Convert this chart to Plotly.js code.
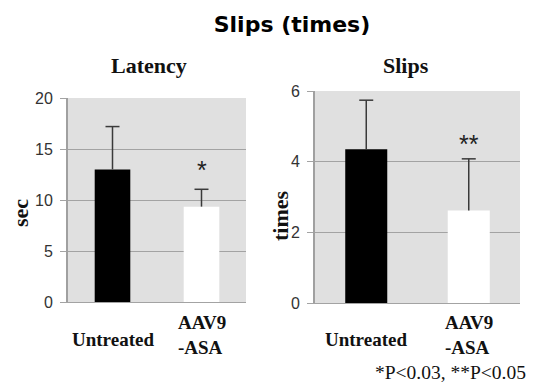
<!DOCTYPE html>
<html>
<head>
<meta charset="utf-8">
<script src="https://cdn.plot.ly/plotly-3.0.1.min.js"></script>
<style>
html,body{margin:0;padding:0;background:#fff;}
#chart{width:535px;height:389px;}
</style>
</head>
<body>
<div id="chart"></div>
<script>
const categories = ['Untreated', 'AAV9-ASA'];
const tickLabels = ['Untreated', 'AAV9<br>-ASA'];
const latencyMean = [13.0, 9.35];
const latencyErr = [4.2, 1.7];
const latencyStars = ['', '*'];
const slipsMean = [4.35, 2.62];
const slipsErr = [1.39, 1.46];
const slipsStars = ['', '**'];
const barColors = ['#000000', '#ffffff'];

// bars plus an upward-only error bar (stem + cap) built from the data arrays
function panelTraces(y, err, xa, ya, w) {
  const stemX = [], stemY = [], capY = [];
  categories.forEach((c, i) => {
    stemX.push(c, c, null);
    stemY.push(y[i], y[i] + err[i], null);
    capY.push(y[i] + err[i]);
  });
  return [
    {type: 'bar', x: categories, y: y, xaxis: xa, yaxis: ya,
     width: w, marker: {color: barColors, line: {width: 0}},
     hoverinfo: 'skip', showlegend: false},
    {type: 'scatter', mode: 'lines', x: stemX, y: stemY, xaxis: xa, yaxis: ya,
     line: {color: '#3a3a3a', width: 1.5}, connectgaps: false,
     hoverinfo: 'skip', showlegend: false, cliponaxis: false},
    {type: 'scatter', mode: 'markers', x: categories, y: capY, xaxis: xa, yaxis: ya,
     marker: {symbol: 'line-ew', size: 10, line: {color: '#3a3a3a', width: 1.5}},
     hoverinfo: 'skip', showlegend: false, cliponaxis: false}
  ];
}

const traces = [].concat(
  panelTraces(latencyMean, latencyErr, 'x', 'y', 0.4),
  panelTraces(slipsMean, slipsErr, 'x2', 'y2', 0.41)
);

const serif = 'Liberation Serif, Times New Roman, serif';
const sans = 'Liberation Sans, Arial, sans-serif';

const yBase = {
  showgrid: true, gridcolor: '#a3a3a3', gridwidth: 1,
  showline: true, linecolor: '#a0a0a0', linewidth: 2,
  ticks: 'outside', ticklen: 6, tickcolor: '#a3a3a3', tickwidth: 1,
  tickfont: {family: sans, size: 16, color: '#333333'},
  zeroline: false, fixedrange: true, ticklabelstandoff: 4
};
const xBase = {
  showgrid: false, showline: true, linecolor: '#a3a3a3', linewidth: 1,
  showticklabels: false, ticks: '', zeroline: false, fixedrange: true,
  type: 'category'
};

const labelFont = {family: serif, size: 19, color: '#111', weight: 'bold'};
const annotations = [];
// x labels
['x', 'x2'].forEach((ax) => {
  categories.forEach((c, i) => {
    annotations.push({
      xref: ax, yref: 'paper', x: c, y: i === 0 ? 1 - 339/389 : 1 - 335/389,
      xanchor: 'center', yanchor: 'middle', text: tickLabels[i], showarrow: false,
      font: labelFont, align: 'left'
    });
  });
});
// significance stars
const starFont = {family: sans, size: 25, color: '#222'};
categories.forEach((c, i) => {
  if (latencyStars[i]) annotations.push({xref: 'x', yref: 'y', x: c, y: latencyMean[i] + latencyErr[i],
    xanchor: 'center', yanchor: 'bottom', yshift: 3, text: latencyStars[i], showarrow: false, font: starFont});
  if (slipsStars[i]) annotations.push({xref: 'x2', yref: 'y2', x: c, y: slipsMean[i] + slipsErr[i],
    xanchor: 'center', yanchor: 'bottom', yshift: -1, text: slipsStars[i], showarrow: false, font: starFont});
});
// panel titles
const panelFont = {family: serif, size: 22, color: '#111', weight: 'bold'};
annotations.push({xref: 'paper', yref: 'paper', x: 149/535, y: 1 - 65/389, xanchor: 'center', yanchor: 'middle',
  text: 'Latency', showarrow: false, font: panelFont});
annotations.push({xref: 'paper', yref: 'paper', x: 406/535, y: 1 - 65/389, xanchor: 'center', yanchor: 'middle',
  text: 'Slips', showarrow: false, font: panelFont});
// y axis titles
const axFont = {family: serif, size: 22, color: '#111', weight: 'bold'};
annotations.push({xref: 'paper', yref: 'paper', x: 20/535, y: 1 - 213/389, xanchor: 'center', yanchor: 'middle',
  text: 'sec', textangle: -90, showarrow: false, font: axFont});
annotations.push({xref: 'paper', yref: 'paper', x: 280/535, y: 1 - 216/389, xanchor: 'center', yanchor: 'middle',
  text: 'times', textangle: -90, showarrow: false, font: axFont});
// footnote
annotations.push({xref: 'paper', yref: 'paper', x: 528/535, y: 1 - 372/389, xanchor: 'right', yanchor: 'middle',
  text: '*P<0.03, **P<0.05', showarrow: false, font: {family: serif, size: 19.5, color: '#111'}});

const layout = {
  width: 535, height: 389,
  margin: {l: 0, r: 0, t: 0, b: 0},
  paper_bgcolor: '#ffffff', plot_bgcolor: '#e0e0e0',
  title: {text: 'Slips (times)', x: 292/535, xanchor: 'center', y: 1 - 24/389, yanchor: 'middle',
    font: {family: 'DejaVu Sans, sans-serif', size: 22, color: '#000', weight: 'bold'}},
  xaxis: Object.assign({}, xBase, {domain: [68/535, 246/535], anchor: 'y'}),
  yaxis: Object.assign({}, yBase, {domain: [1 - 302/389, 1 - 98/389], range: [0, 20], dtick: 5, anchor: 'x'}),
  xaxis2: Object.assign({}, xBase, {domain: [315/535, 520/535], anchor: 'y2'}),
  yaxis2: Object.assign({}, yBase, {domain: [1 - 303/389, 1 - 91/389], range: [0, 6], dtick: 2, anchor: 'x2'}),
  annotations: annotations
};

Plotly.newPlot('chart', traces, layout, {displayModeBar: false, staticPlot: true});
</script>
</body>
</html>
